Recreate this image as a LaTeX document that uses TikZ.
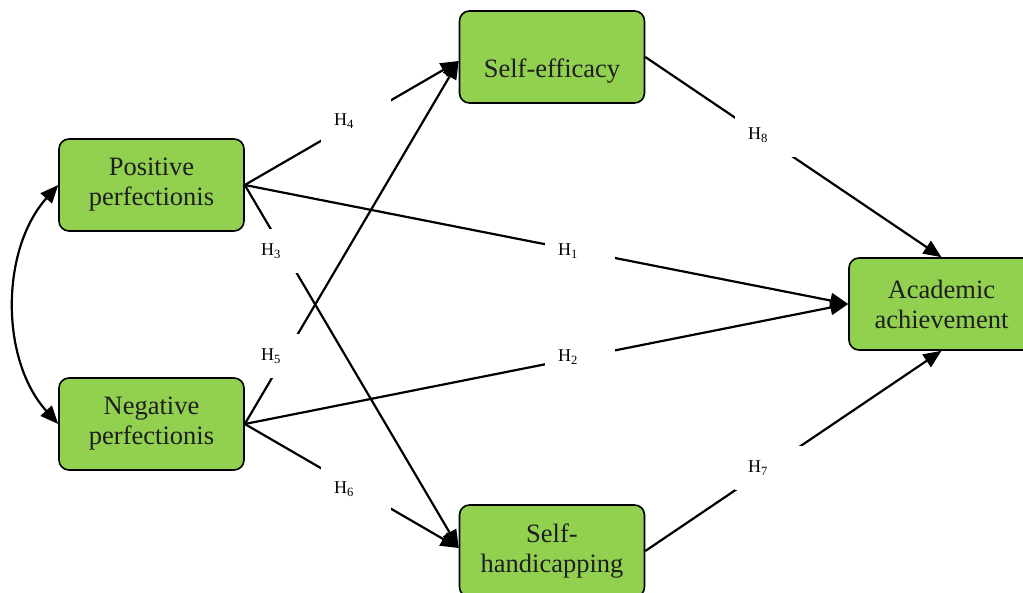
\documentclass[tikz,border=0pt]{standalone}
\usepackage{fontspec}
\setmainfont{Liberation Serif}
\usetikzlibrary{arrows.meta,calc}
\definecolor{boxgreen}{RGB}{146,208,80}
\definecolor{boxtext}{RGB}{30,30,30}
\newcommand{\boxfont}{\fontsize{26.5}{30}\selectfont}
\newcommand{\hfont}{\fontsize{18}{20}\selectfont}
\begin{document}
\begin{tikzpicture}[x=1pt,y=-1pt,
  varbox/.style={draw=black, line width=1.6pt, fill=boxgreen, rounded corners=10pt,
    minimum width=185pt, minimum height=92pt, inner sep=0pt,
    align=center, font=\boxfont, text=boxtext},
  path/.style={line width=2.2pt, -{Triangle[length=18pt,width=15pt]}},
  hlabel/.style={fill=white, inner xsep=13pt, inner ysep=0pt, text width=44pt,
    minimum height=44pt, align=left, font=\hfont, text=black}]
\useasboundingbox (0,0) rectangle (1023,593);
\clip (0,0) rectangle (1023,593);
% boxes
\node[varbox] (pp) at (151.5,185) {Positive\\perfectionis};
\node[varbox] (np) at (151.5,424) {Negative\\perfectionis};
\node[varbox, label={[font=\boxfont, text=boxtext, yshift=-14pt]center:Self-efficacy}] (se) at (552,57) {};
\node[varbox] (sh) at (552,551) {Self-\\handicapping};
\node[varbox] (ac) at (941.5,304) {Academic\\achievement};
% connectors
\coordinate (seIn) at ($(se.west)+(0,4)$);
\coordinate (shIn) at ($(sh.west)+(0,-3)$);
\draw[path] (pp.east) -- (seIn);
\draw[path] (np.east) -- (seIn);
\draw[path] (pp.east) -- (shIn);
\draw[path] (np.east) -- (shIn);
\draw[path] (pp.east) -- (ac.west);
\draw[path] (np.east) -- (ac.west);
\draw[path] (se.east) -- (ac.north);
\draw[path] (sh.east) -- (ac.south);
\draw[line width=2.2pt, {Triangle[length=18pt,width=15pt]}-{Triangle[length=18pt,width=15pt]}]
  (pp.west) .. controls +(-58,65) and +(-58,-64) .. (np.west);
% labels
\node[hlabel] (h4) at (356,121) {H\textsubscript{4}};
\node[hlabel] (h3) at (283,251) {H\textsubscript{3}};
\node[hlabel] (h5) at (283,356) {H\textsubscript{5}};
\node[hlabel] (h6) at (356,489) {H\textsubscript{6}};
\node[hlabel] (h1) at (580,251) {H\textsubscript{1}};
\node[hlabel] (h2) at (580,357) {H\textsubscript{2}};
\node[hlabel] (h8) at (770,135) {H\textsubscript{8}};
\node[hlabel] (h7) at (770,468) {H\textsubscript{7}};
\end{tikzpicture}
\end{document}
